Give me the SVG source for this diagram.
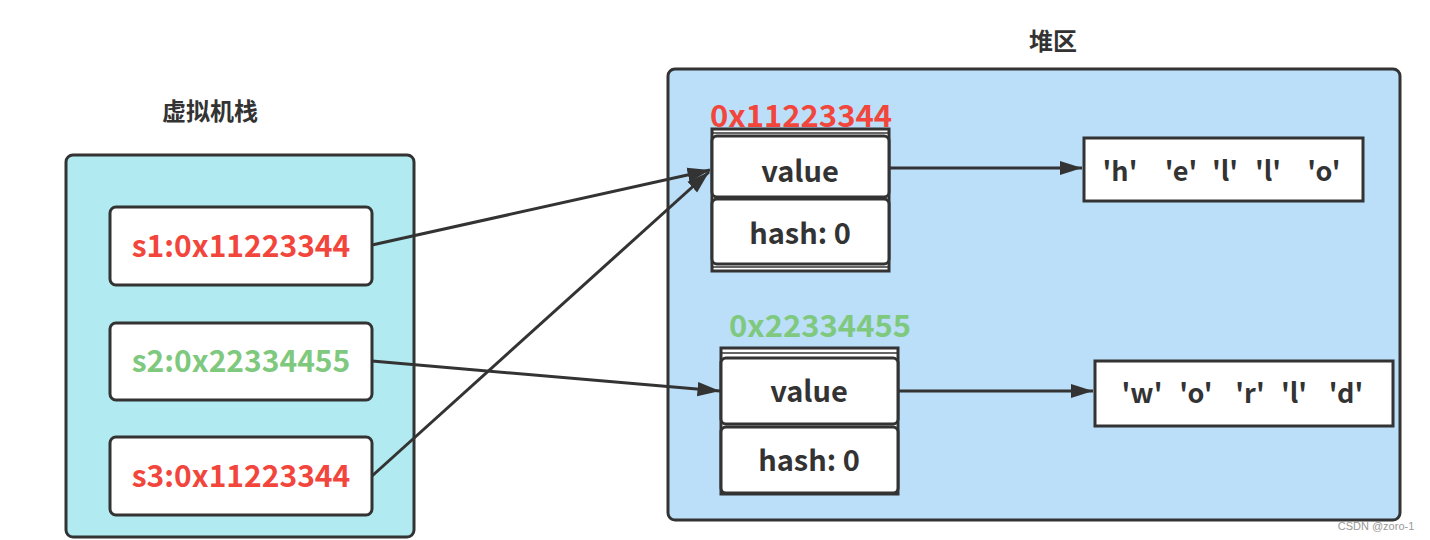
<svg xmlns="http://www.w3.org/2000/svg" width="1430" height="540" viewBox="0 0 1430 540">
<style>
.t{font-family:"Microsoft YaHei","Noto Sans CJK SC","Liberation Sans",sans-serif;font-weight:bold;text-anchor:middle}
.box{fill:#fff;stroke:#333;stroke-width:3}
.red{fill:#f2463c}
.green{fill:#7fc97f}
.dark{fill:#333}
.con{fill:none;stroke:#333;stroke-width:3}
</style>
<defs>
<marker id="ah" markerWidth="9" markerHeight="8" refX="7.5" refY="4" orient="auto" markerUnits="strokeWidth">
<path d="M0,1.6 L7.5,4 L0,6.4 Z" fill="#333"/>
</marker>
</defs>
<rect width="1430" height="540" fill="#fff"/>

<g id="stack">
<rect x="66" y="155" width="348" height="382" rx="7" fill="#b1ebf1" stroke="#333" stroke-width="3"/>
<text class="t dark" x="210" y="120" font-size="24">虚拟机栈</text>
</g>
<g id="s1">
<rect class="box" x="110" y="207" width="262" height="78" rx="6"/>
<text class="t red" x="241" y="257" font-size="30">s1:0x11223344</text>
</g>
<g id="s2">
<rect class="box" x="110" y="323" width="262" height="77" rx="6"/>
<text class="t green" x="241" y="372" font-size="30">s2:0x22334455</text>
</g>
<g id="s3">
<rect class="box" x="110" y="437" width="262" height="78" rx="6"/>
<text class="t red" x="241" y="487" font-size="30">s3:0x11223344</text>
</g>

<g id="heap">
<rect x="668" y="69" width="732" height="451" rx="7" fill="#bbdef9" stroke="#333" stroke-width="3"/>
<text class="t dark" x="1053" y="50" font-size="24">堆区</text>
</g>

<g id="obj1">
<text class="t red" x="801" y="127" font-size="31">0x11223344</text>
<rect class="box" x="712" y="129" width="177" height="142"/>
<line x1="712" y1="133" x2="889" y2="133" stroke="#333" stroke-width="1.5"/>
<line x1="712" y1="267" x2="889" y2="267" stroke="#333" stroke-width="1.5"/>
<rect class="box" x="712" y="136" width="177" height="61" rx="5"/>
<rect class="box" x="712" y="199" width="177" height="65" rx="5"/>
<text class="t dark" x="800" y="182" font-size="29">value</text>
<text class="t dark" x="800" y="244" font-size="29">hash: 0</text>
</g>

<g id="obj2">
<text class="t green" x="820" y="337" font-size="31">0x22334455</text>
<rect class="box" x="721" y="348" width="177" height="146"/>
<line x1="721" y1="353" x2="898" y2="353" stroke="#333" stroke-width="1.5"/>
<rect class="box" x="721" y="358" width="177" height="66" rx="5"/>
<rect class="box" x="721" y="427" width="177" height="66" rx="5"/>
<text class="t dark" x="809" y="402" font-size="29">value</text>
<text class="t dark" x="809" y="471" font-size="29">hash: 0</text>
</g>

<g id="str1">
<rect class="box" x="1084" y="138" width="279" height="63"/>
<text class="t dark" y="181" font-size="27"><tspan x="1120">'h'</tspan><tspan x="1181">'e'</tspan><tspan x="1225">'l'</tspan><tspan x="1268">'l'</tspan><tspan x="1324">'o'</tspan></text>
</g>
<g id="str2">
<rect class="box" x="1095" y="361" width="298" height="65"/>
<text class="t dark" y="403" font-size="27"><tspan x="1142">'w'</tspan><tspan x="1196">'o'</tspan><tspan x="1250">'r'</tspan><tspan x="1294">'l'</tspan><tspan x="1346">'d'</tspan></text>
</g>

<g id="connectors">
<line class="con" x1="372" y1="245" x2="710" y2="170" marker-end="url(#ah)"/>
<line class="con" x1="372" y1="476" x2="709" y2="172" marker-end="url(#ah)"/>
<line class="con" x1="372" y1="361" x2="720" y2="391" marker-end="url(#ah)"/>
<line class="con" x1="889" y1="168" x2="1082" y2="168" marker-end="url(#ah)"/>
<line class="con" x1="898" y1="391" x2="1093" y2="391" marker-end="url(#ah)"/>
</g>

<text x="1376" y="530" font-family="Liberation Sans,sans-serif" font-size="11" fill="#999" text-anchor="middle">CSDN @zoro-1</text>
</svg>
